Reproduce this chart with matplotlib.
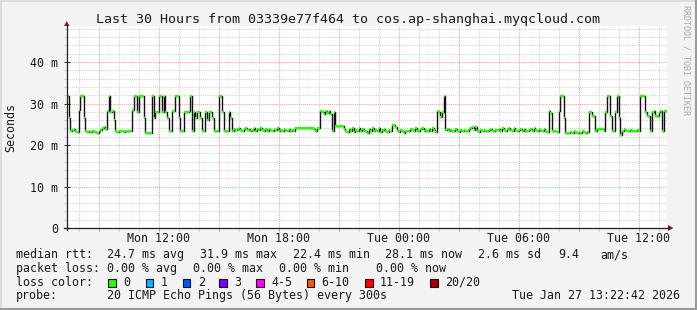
import matplotlib
matplotlib.use("Agg")
import matplotlib.pyplot as plt
from matplotlib.patches import Polygon, Rectangle
from matplotlib.lines import Line2D
import numpy as np

# ---------------- data ----------------
title = "Last 30 Hours from 03339e77f464 to cos.ap-shanghai.myqcloud.com"
start_hour = 7.42          # Mon 07:25 expressed in hours since Mon 00:00
span_hours = 30
step_hours = 5 / 60        # one sample every 300 s

median_rtt = [  # ms, one value per 5 minutes
    31.9, 26.5, 23.3, 23.6, 23.8, 23.5, 23.2, 28.5, 31.9, 31.9, 26.5, 23.3,
    23.2, 23.4, 23.1, 23.3, 23.5, 23.2, 23.0, 23.4, 23.6, 24.0, 24.3, 23.8,
    28.3, 31.9, 28.0, 28.3, 26.0, 23.3, 23.2, 23.4, 23.3, 23.5, 23.2, 23.4,
    23.3, 23.5, 23.3, 28.5, 31.9, 31.9, 28.0, 31.9, 31.9, 31.9, 26.5, 22.9,
    22.9, 22.9, 22.9, 31.9, 26.5, 28.0, 28.0, 31.9, 31.9, 28.0, 31.9, 28.0,
    26.5, 23.3, 23.3, 28.2, 28.2, 31.9, 31.9, 26.5, 23.3, 23.3, 28.0, 28.0,
    28.0, 28.3, 31.9, 23.3, 28.0, 26.5, 28.0, 28.0, 26.5, 23.3, 23.3, 28.0,
    26.0, 28.0, 28.0, 26.5, 23.3, 23.3, 23.3, 31.9, 31.9, 28.0, 23.3, 23.3,
    23.3, 28.0, 26.5, 23.3, 23.8, 23.6, 23.9, 24.0, 23.7, 23.5, 23.8, 24.1,
    23.6, 23.9, 23.4, 23.7, 24.0, 23.5, 23.8, 23.6, 24.1, 23.7, 23.4, 23.8,
    23.5, 23.9, 23.6, 23.3, 23.8, 23.6, 24.0, 23.5, 23.7, 23.4, 23.9, 23.6,
    23.4, 23.8, 23.5, 23.7, 23.3, 24.0, 24.0, 24.0, 24.0, 24.0, 24.0, 24.0,
    24.0, 24.0, 24.0, 24.0, 23.8, 23.5, 24.0, 24.2, 28.3, 28.0, 27.5, 28.3,
    27.8, 28.3, 27.5, 23.3, 28.0, 24.5, 24.5, 24.5, 24.5, 24.5, 23.8, 23.5,
    23.2, 23.9, 23.4, 24.0, 23.1, 23.6, 23.5, 24.2, 23.4, 23.8, 23.3, 23.5,
    23.0, 23.9, 23.5, 24.2, 23.3, 23.7, 23.4, 24.0, 23.2, 23.6, 23.8, 23.4,
    23.2, 23.6, 23.4, 24.8, 24.8, 24.3, 23.5, 23.2, 23.7, 23.3, 23.0, 23.4,
    23.5, 23.4, 23.9, 23.6, 23.3, 24.1, 23.5, 23.4, 23.8, 24.0, 23.4, 23.6,
    23.5, 23.9, 23.4, 24.0, 23.6, 23.2, 28.2, 28.0, 26.8, 28.0, 31.9, 23.6,
    23.8, 23.5, 23.6, 23.3, 23.5, 23.9, 23.4, 23.2, 23.7, 23.5, 23.6, 23.3,
    23.5, 23.8, 24.2, 24.4, 23.6, 24.3, 23.4, 23.2, 23.6, 23.4, 23.7, 23.5,
    23.3, 23.6, 23.8, 23.5, 23.4, 23.7, 23.6, 23.9, 23.5, 24.0, 23.7, 23.4,
    23.8, 24.0, 23.6, 23.5, 24.1, 23.7, 23.3, 23.6, 23.8, 23.4, 23.9, 23.5,
    23.4, 23.7, 23.9, 23.5, 24.0, 23.6, 23.3, 23.8, 23.6, 23.5, 23.9, 23.3,
    23.2, 28.3, 27.8, 23.3, 23.3, 23.3, 23.2, 28.3, 31.9, 31.9, 26.5, 23.0,
    23.0, 22.9, 23.1, 23.0, 23.3, 23.1, 22.9, 23.2, 23.0, 23.4, 23.1, 23.0,
    23.2, 28.0, 28.0, 27.0, 27.0, 23.3, 23.8, 23.8, 23.8, 23.8, 23.3, 28.0,
    31.9, 31.9, 27.0, 23.3, 23.3, 28.0, 31.9, 26.5, 22.4, 23.5, 23.8, 23.6,
    23.5, 23.3, 23.6, 23.4, 23.5, 23.3, 23.6, 23.4, 31.9, 31.9, 31.9, 28.0,
    27.0, 27.0, 23.3, 28.0, 28.3, 27.0, 27.0, 28.0, 28.3, 23.3, 28.1, 28.1,
]

x_major = [9, 12, 15, 18, 21, 24, 27, 30, 33, 36]
x_label_pos = [12, 18, 24, 30, 36]
x_labels = ["Mon 12:00", "Mon 18:00", "Tue 00:00", "Tue 06:00", "Tue 12:00"]
y_major = [0, 10, 20, 30, 40]
y_labels = ["0", "10 m", "20 m", "30 m", "40 m"]
y_top = 48.6

legend_rtt = [("median rtt:", 16), ("24.7 ms avg", 107.3), ("31.9 ms max", 200),
              ("22.4 ms min", 293.3), ("28.1 ms now", 385), ("2.6 ms sd", 478.3),
              ("9.4", 558.3), ("am/s", 600)]
legend_loss = [("packet loss:", 16), ("0.00 % avg", 107.3), ("0.00 % max", 193.3),
               ("0.00 % min", 279.3), ("0.00 % now", 376)]
loss_labels = ["0", "1", "2", "3", "4-5", "6-10", "11-19", "20/20"]
loss_colors = ["#26ff00", "#00b8ff", "#0059ff", "#7e00ff", "#ff00ff", "#ff5500", "#ff0000", "#a10000"]
loss_box_x = [108.3, 145.7, 182.7, 219.3, 256, 306.7, 365, 430]
probe_text = "20 ICMP Echo Pings (56 Bytes) every 300s"
stamp_text = "Tue Jan 27 13:22:42 2026"
side_text = "RRDTOOL / TOBI OETIKER"

# ---------------- layout ----------------
W, H = 697, 310
L, R, T, B = 67, 667, 26.4, 228
MONO = "DejaVu Sans Mono"
FS = 8.4
BG = "#f3f3f3"

fig = plt.figure(figsize=(W / 100, H / 100), dpi=100, facecolor=BG)

def fx(x):
    return x / W

def fy(y):
    return 1 - y / H

ax = fig.add_axes([fx(L), fy(B), (R - L) / W, (B - T) / H])
ax.set_facecolor("white")
ax.set_xlim(start_hour, start_hour + span_hours)
ax.set_ylim(0, y_top)
for s in ax.spines.values():
    s.set_visible(False)

# grid
minor_x = [h for h in range(8, 38) if h not in x_major]
minor_y = [v for v in range(2, 49, 2) if v % 10 != 0]
for h in minor_x:
    ax.axvline(h, color="#d2d2d2", lw=0.75, ls=(0, (1, 1)), zorder=1)
for v in minor_y:
    ax.axhline(v, color="#d2d2d2", lw=0.75, ls=(0, (1, 1)), zorder=1)
for h in x_major:
    ax.axvline(h, color="#f4a0a0", lw=0.75, ls=(0, (1, 1)), zorder=1.5)
for v in y_major[1:]:
    ax.axhline(v, color="#f4a0a0", lw=0.75, ls=(0, (1, 1)), zorder=1.5)

# ticks
ax.set_xticks(x_major)
ax.set_xticklabels([x_labels[x_label_pos.index(h)] if h in x_label_pos else "" for h in x_major])
ax.set_xticks(minor_x, minor=True)
ax.set_yticks(y_major)
ax.set_yticklabels(y_labels)
ax.set_yticks(minor_y, minor=True)
ax.tick_params(axis="x", which="major", direction="out", length=2.2, width=0.75,
               color="#e08080", pad=0.6, labelsize=FS, labelfontfamily=MONO)
ax.tick_params(axis="x", which="minor", direction="out", length=2.2, width=0.75, color="#c8c8c8")
ax.tick_params(axis="y", which="major", direction="inout", length=4.4, width=0.75,
               color="#303030", pad=4.0, labelsize=FS, labelfontfamily=MONO)
ax.tick_params(axis="y", which="minor", direction="out", length=2.2, width=0.75, color="#c8c8c8")
for lab in ax.get_xticklabels() + ax.get_yticklabels():
    lab.set_color("#1a1a1a")

# data: black step line with green loss-coloured median levels
vals = np.array(median_rtt)
t = start_hour + np.arange(len(vals)) * step_hours
t_edges = np.append(t, t[-1] + step_hours)
ax.step(t_edges, np.append(vals, vals[-1]), where="post", color="#111111", lw=1.0, zorder=3)
ax.hlines(vals, t, t + step_hours, color=loss_colors[0], lw=1.7, zorder=4)

# axis lines + arrows (figure pixel coords)
fig.add_artist(Line2D([fx(L - 0.3), fx(L - 0.3)], [fy(B + 2), fy(T - 1)], color="#202020", lw=0.9))
fig.add_artist(Line2D([fx(L - 3), fx(R + 2)], [fy(B), fy(B)], color="#202020", lw=0.9))
fig.add_artist(Polygon([[fx(L - 3), fy(26)], [fx(L + 2.5), fy(26)], [fx(L - 0.3), fy(21)]],
                       closed=True, color="#8c1c1c", lw=0))
fig.add_artist(Polygon([[fx(668), fy(B - 3)], [fx(668), fy(B + 3)], [fx(673.5), fy(B)]],
                       closed=True, color="#8c1c1c", lw=0))

# title & labels
fig.text(fx(348), fy(23.3), title, ha="center", va="baseline", family=MONO, fontsize=9.6, color="#1a1a1a")
fig.text(fx(10.5), fy(127), "Seconds", rotation=90, ha="center", va="center",
         family=MONO, fontsize=FS, color="#1a1a1a")
fig.text(fx(686), fy(5), side_text, rotation=-90, ha="center", va="top",
         family=MONO, fontsize=6.0, color="#a8a8a8")

# legend
base = [258, 272, 285.7, 299.4]
for s, x in legend_rtt:
    fig.text(fx(x), fy(base[0]), s, ha="left", va="baseline", family=MONO, fontsize=FS, color="#1a1a1a")
for s, x in legend_loss:
    fig.text(fx(x), fy(base[1]), s, ha="left", va="baseline", family=MONO, fontsize=FS, color="#1a1a1a")
fig.text(fx(16), fy(base[2]), "loss color:", ha="left", va="baseline", family=MONO, fontsize=FS, color="#1a1a1a")
for lab, col, bx in zip(loss_labels, loss_colors, loss_box_x):
    fig.add_artist(Rectangle((fx(bx), fy(286.5)), 7.5 / W, 8 / H, facecolor=col,
                             edgecolor="#111111", lw=0.8, transform=fig.transFigure))
    fig.text(fx(bx + 15), fy(base[2]), lab, ha="left", va="baseline", family=MONO, fontsize=FS, color="#1a1a1a")
fig.text(fx(16), fy(base[3]), "probe:", ha="left", va="baseline", family=MONO, fontsize=FS, color="#1a1a1a")
fig.text(fx(107.3), fy(base[3]), probe_text, ha="left", va="baseline", family=MONO, fontsize=FS, color="#1a1a1a")
fig.text(fx(680), fy(base[3]), stamp_text, ha="right", va="baseline", family=MONO, fontsize=FS, color="#1a1a1a")

# frame (3D-ish border like rrdtool)
fig.add_artist(Line2D([0, 1], [fy(0.5), fy(0.5)], color="#d8d8d8", lw=1.2))
fig.add_artist(Line2D([fx(0.5), fx(0.5)], [0, 1], color="#d8d8d8", lw=1.2))
fig.add_artist(Line2D([0, 1], [fy(H - 1), fy(H - 1)], color="#9a9a9a", lw=2.2))
fig.add_artist(Line2D([fx(W - 1), fx(W - 1)], [0, 1], color="#9a9a9a", lw=2.2))

fig.savefig("out.png", dpi=100, facecolor=BG)
